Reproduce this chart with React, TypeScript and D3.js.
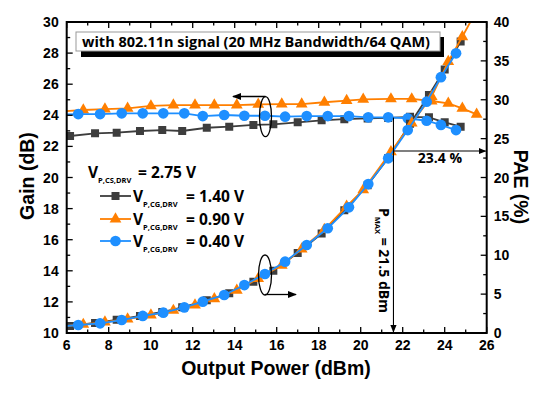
import React from 'react';
import * as d3 from 'd3';

// tick labels
const xTicks = [6, 8, 10, 12, 14, 16, 18, 20, 22, 24, 26];
const gainTicks = [10, 12, 14, 16, 18, 20, 22, 24, 26, 28, 30];
const paeTicks = [0, 5, 10, 15, 20, 25, 30, 35, 40];

// V_P,CG,DRV = 1.40 V
const grayX = [6.16, 7.35, 8.38, 9.49, 10.55, 11.5, 12.67, 13.74, 14.89, 15.84, 17.0, 18.14, 19.22, 20.33, 21.31, 22.35, 23.25, 24.0, 24.76];
const grayGain = [22.67, 22.84, 22.88, 22.99, 23.05, 22.99, 23.2, 23.27, 23.38, 23.42, 23.55, 23.68, 23.75, 23.8, 23.83, 23.9, 23.87, 23.55, 23.27];
const grayPae = [0.9, 1.3, 1.7, 2.2, 2.7, 3.3, 4.2, 5.1, 6.6, 8.0, 10.3, 12.8, 15.8, 19.0, 22.5, 26.9, 30.6, 33.9, 37.5];

// V_P,CG,DRV = 0.90 V
const orangeX = [5.76, 6.79, 7.82, 8.9, 10.01, 11.08, 12.11, 13.03, 14.1, 15.12, 16.24, 17.19, 18.27, 19.33, 20.12, 21.44, 22.43, 23.38, 24.17, 24.84, 25.52];
const orangeGain = [24.25, 24.34, 24.4, 24.45, 24.6, 24.66, 24.66, 24.66, 24.66, 24.7, 24.72, 24.72, 24.84, 24.95, 25.03, 25.05, 25.05, 24.92, 24.77, 24.45, 24.06];
const orangePae = [0.85, 1.1, 1.4, 1.8, 2.3, 2.9, 3.6, 4.4, 5.5, 7.0, 8.7, 10.8, 13.3, 16.3, 18.4, 23.3, 27.0, 30.4, 34.9, 38.1, 41.5];

// V_P,CG,DRV = 0.40 V
const blueX = [5.52, 6.55, 7.59, 8.62, 9.62, 10.6, 11.6, 12.48, 13.5, 14.46, 15.44, 16.4, 17.43, 18.43, 19.44, 20.36, 21.31, 22.24, 23.14, 23.82, 24.54];
const blueGain = [24.05, 24.08, 24.08, 24.13, 24.13, 24.13, 24.13, 23.95, 24.02, 23.97, 23.97, 23.91, 23.95, 23.95, 23.95, 23.87, 23.87, 23.81, 23.65, 23.38, 23.05];
const bluePae = [0.8, 1.03, 1.25, 1.67, 2.19, 2.61, 3.3, 4.03, 4.89, 6.17, 7.59, 9.17, 11.32, 13.47, 16.17, 19.16, 22.47, 26.1, 29.75, 32.9, 35.97];

const pMax = 21.56;
const paeAtPmax = 23.4;

const W = 550, H = 397;
const L = 66.7, R = 486.7, T = 22, B = 333;

const x = d3.scaleLinear().domain([6, 26]).range([L, R]);
const yG = d3.scaleLinear().domain([10, 30]).range([B, T]);
const yP = d3.scaleLinear().domain([0, 40]).range([B, T]);

const GRAY = '#3d3d3d';
const ORANGE = '#ff7f00';
const BLUE = '#1e8fff';

type Pt = [number, number];
type Series = { color: string, shape: d3.SymbolType, size: number, gain: Pt[], pae: Pt[] };

const zip = (xs: number[], ys: number[]): Pt[] => xs.map((v, i) => [v, ys[i]]);

const series: Series[] = [
  { color: GRAY, shape: d3.symbolSquare, size: 64, gain: zip(grayX, grayGain), pae: zip(grayX, grayPae) },
  { color: ORANGE, shape: d3.symbolTriangle, size: 60, gain: zip(orangeX, orangeGain), pae: zip(orangeX, orangePae) },
  { color: BLUE, shape: d3.symbolCircle, size: 90, gain: zip(blueX, blueGain), pae: zip(blueX, bluePae) },
];

const TICK_FONT = '"Liberation Sans", Arial, sans-serif';
const TEXT_FONT = '"Open Sans", sans-serif';

const Curve = ({ pts, y, s }: { pts: Pt[], y: d3.ScaleLinear<number, number>, s: Series }) => {
  const line = d3.line<Pt>().x(d => x(d[0])).y(d => y(d[1]));
  const sym = d3.symbol().type(s.shape).size(s.size)();
  return (
    <g>
      <path d={line(pts) || ''} fill="none" stroke={s.color} strokeWidth={1.8} />
      {pts.map((d, i) => (
        <path key={i} d={sym || ''} transform={`translate(${x(d[0])},${y(d[1])})`} fill={s.color} />
      ))}
    </g>
  );
};

const legendRows = [
  { s: series[0], label: '= 1.40 V' },
  { s: series[1], label: '= 0.90 V' },
  { s: series[2], label: '= 0.40 V' },
];
const legendY = [196, 219, 241];

export default function App() {
  const minorX = d3.range(6, 26.01, 1);
  const minorG = d3.range(10, 30.01, 1);
  const minorP = d3.range(0, 40.01, 2.5);
  return (
    <svg width={W} height={H} style={{ position: 'absolute', left: 0, top: 0, background: '#fff' }}>
      <defs>
        <clipPath id="plot">
          <rect x={L} y={T} width={R - L} height={B - T} />
        </clipPath>
        <marker id="arr" viewBox="0 0 10 10" refX={9} refY={5} markerWidth={7} markerHeight={7} orient="auto">
          <path d="M0,1 L10,5 L0,9 Z" fill="#000" />
        </marker>
      </defs>

      {/* data */}
      <g clipPath="url(#plot)">
        {series.map((s, i) => <Curve key={'g' + i} pts={s.gain} y={yG} s={s} />)}
        {series.map((s, i) => <Curve key={'p' + i} pts={s.pae} y={yP} s={s} />)}
      </g>

      {/* ticks */}
      <g stroke="#000" strokeWidth={1.3}>
        {minorX.map(v => {
          const len = v % 2 === 0 ? 6 : 3.5;
          return (
            <g key={'x' + v}>
              <line x1={x(v)} x2={x(v)} y1={B} y2={B - len} />
              <line x1={x(v)} x2={x(v)} y1={T} y2={T + len} />
            </g>
          );
        })}
        {minorG.map(v => (
          <line key={'g' + v} x1={L} x2={L + (v % 2 === 0 ? 6 : 3.5)} y1={yG(v)} y2={yG(v)} />
        ))}
        {minorP.map(v => (
          <line key={'p' + v} x1={R} x2={R - (v % 5 === 0 ? 6 : 3.5)} y1={yP(v)} y2={yP(v)} />
        ))}
      </g>
      <rect x={L} y={T} width={R - L} height={B - T} fill="none" stroke="#000" strokeWidth={2} />

      {/* tick labels */}
      <g fontFamily={TICK_FONT} fontWeight="bold" fontSize={14} fill="#000">
        {xTicks.map(v => (
          <text key={'xl' + v} x={x(v)} y={B + 17} textAnchor="middle">{v}</text>
        ))}
        {gainTicks.map(v => (
          <text key={'gl' + v} x={L - 8} y={yG(v) + 5} textAnchor="end">{v}</text>
        ))}
        {paeTicks.map(v => (
          <text key={'pl' + v} x={R + 7} y={yP(v) + 5} textAnchor="start">{v}</text>
        ))}
      </g>

      {/* axis titles */}
      <g fontFamily={TICK_FONT} fontWeight="bold" fontSize={19.5} fill="#000">
        <text x={276} y={375} textAnchor="middle">Output Power (dBm)</text>
        <text transform={`translate(34,176) rotate(-90)`} textAnchor="middle">Gain (dB)</text>
        <text transform={`translate(514,187) rotate(90)`} textAnchor="middle">PAE (%)</text>
      </g>

      {/* title box */}
      <rect x={81} y={37} width={363} height={20} fill="#000" />
      <rect x={76} y={32} width={364} height={19} fill="#fff" stroke="#999" strokeWidth={1} />
      <text x={82} y={46.8} fontFamily={TEXT_FONT} fontWeight="bold" fontSize={14.5} fill="#000">
        with 802.11n signal (20 MHz Bandwidth/64 QAM)
      </text>

      {/* ellipses + arrows */}
      <g fill="none" stroke="#000" strokeWidth={1.3}>
        <ellipse cx={265.5} cy={116.7} rx={6} ry={20} />
        <line x1={265.5} y1={96.5} x2={233} y2={96.5} markerEnd="url(#arr)" />
        <ellipse cx={265} cy={275} rx={6.5} ry={20} />
        <line x1={265} y1={294.5} x2={296} y2={294.5} markerEnd="url(#arr)" />
      </g>

      {/* Pmax marker lines */}
      <g stroke="#000" strokeWidth={1.1} fill="none">
        <line x1={x(pMax)} x2={x(pMax)} y1={yG(23.85)} y2={B - 1} markerEnd="url(#arr)" />
        <line x1={x(pMax)} x2={R - 1} y1={yP(paeAtPmax)} y2={yP(paeAtPmax)} markerEnd="url(#arr)" />
      </g>
      <text x={440} y={163} textAnchor="middle" fontFamily={TEXT_FONT} fontWeight="bold" fontSize={14} fill="#000">23.4 %</text>
      <text transform={`translate(379,208) rotate(90)`} fontFamily={TEXT_FONT} fontWeight="bold" fontSize={14} fill="#000">
        <tspan>P</tspan>
        <tspan fontSize={7.5} dy={4}>MAX</tspan>
        <tspan dy={-4}> = 21.5 dBm</tspan>
      </text>

      {/* legend */}
      <g fontFamily={TEXT_FONT} fontWeight="bold" fill="#000">
        <text x={88} y={178} fontSize={15.5}>
          <tspan>V</tspan>
          <tspan fontSize={7.5} dy={5}>P,CS,DRV</tspan>
        </text>
        <text x={138} y={178} fontSize={15.5}>= 2.75 V</text>
        {legendRows.map((r, i) => {
          const sym = d3.symbol().type(r.s.shape).size(r.s.size)();
          const yy = legendY[i];
          return (
            <g key={'lg' + i}>
              <line x1={100} x2={131} y1={yy} y2={yy} stroke={r.s.color} strokeWidth={1.8} />
              <path d={sym || ''} transform={`translate(115.5,${yy})`} fill={r.s.color} />
              <text x={133} y={yy + 6} fontSize={15.5}>
                <tspan>V</tspan>
                <tspan fontSize={7.5} dy={5}>P,CG,DRV</tspan>
              </text>
              <text x={186} y={yy + 6} fontSize={15.5}>{r.label}</text>
            </g>
          );
        })}
      </g>
    </svg>
  );
}
